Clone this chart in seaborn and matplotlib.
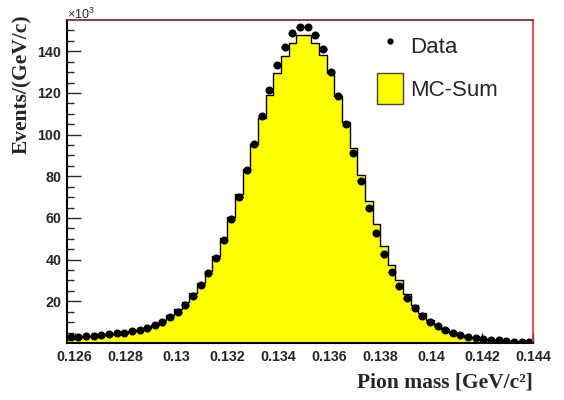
import numpy as np
import pandas as pd
import matplotlib
matplotlib.use("Agg")
import matplotlib.pyplot as plt
import seaborn as sns
from matplotlib.lines import Line2D
from matplotlib.patches import Patch

# ---- data (values in units of 10^3 events) ----
bin_low = 0.1257
bin_width = 0.0003
n_bins = 61
data_vals = [2.9, 2.8, 3.3, 3.4, 3.7, 4.1, 4.6, 5.0, 5.7, 6.3,
             7.4, 8.5, 10.1, 12.5, 15.1, 18.1, 22.5, 27.6, 33.4, 40.6,
             49.4, 59.5, 70.1, 83.0, 95.3, 108.8, 121.5, 133.4, 141.9, 148.6,
             151.8, 151.8, 148.0, 140.9, 130.2, 118.5, 105.0, 91.0, 77.7, 64.6,
             53.0, 42.6, 34.1, 27.5, 21.4, 16.7, 13.0, 10.0, 8.1, 6.1,
             4.7, 3.9, 3.1, 2.5, 2.0, 1.5, 1.2, 1.0, 0.7, 0.5, 0.4]
mc_vals = [3.0, 3.1, 3.3, 3.5, 3.8, 4.1, 4.5, 5.0, 5.6, 6.3,
           7.3, 8.6, 10.9, 13.3, 16.1, 19.7, 23.8, 28.6, 34.5, 41.7,
           50.2, 60.5, 71.4, 83.4, 95.5, 107.8, 119.2, 129.5, 137.5, 144.2,
           147.8, 147.8, 144.1, 138.1, 129.5, 118.7, 105.9, 93.4, 80.6, 68.1,
           57.0, 46.5, 37.3, 30.2, 23.5, 18.2, 14.3, 10.9, 8.7, 6.5,
           4.9, 3.7, 3.0, 2.4, 1.9, 1.5, 1.2, 1.0, 0.8, 0.6, 0.5]
x_ticks = [0.126, 0.128, 0.130, 0.132, 0.134, 0.136, 0.138, 0.140, 0.142, 0.144]
x_tick_labels = ["0.126", "0.128", "0.13", "0.132", "0.134", "0.136",
                 "0.138", "0.14", "0.142", "0.144"]
y_ticks = [20, 40, 60, 80, 100, 120, 140]
y_tick_labels = ["20", "40", "60", "80", "100", "120", "140"]

edges = bin_low + bin_width * np.arange(n_bins + 1)
centers = edges[:-1] + bin_width / 2
df = pd.DataFrame({"mass": centers, "mc": mc_vals, "data": data_vals})

sns.set_style("white")
plt.rcParams["font.family"] = ["Liberation Sans", "DejaVu Sans"]
plt.rcParams["mathtext.fontset"] = "custom"
plt.rcParams["mathtext.rm"] = "Liberation Sans"
plt.rcParams["mathtext.it"] = "Liberation Sans"

fig = plt.figure(figsize=(5.64, 4.0), dpi=100)
ax = fig.add_axes([67/564, 1-343/400, 466/564, 323/400])

sns.histplot(data=df, x="mass", weights="mc", bins=list(edges), element="step",
             fill=True, color="#ffff00", alpha=1.0, edgecolor="black",
             linewidth=1.0, ax=ax)
ax.errorbar(df["mass"], df["data"], xerr=bin_width/2, fmt="o", color="black",
            ms=4.8, elinewidth=1.0, capsize=0, zorder=5)

ax.set_xlim(bin_low, 0.144)
ax.set_ylim(0, 155)
ax.set_xlabel("")
ax.set_ylabel("")

ax.set_xticks(x_ticks)
ax.set_xticklabels(x_tick_labels, fontweight="bold", fontsize=10.3)
ax.set_xticks(np.arange(0.126, 0.14401, 0.001), minor=True)
ax.set_yticks(y_ticks)
ax.set_yticklabels(y_tick_labels, fontweight="bold", fontsize=10.3)
ax.set_yticks(np.arange(5, 155, 5), minor=True)
ax.tick_params(axis="y", which="major", direction="in", length=10, width=1, pad=4,
               left=True, right=False)
ax.tick_params(axis="y", which="minor", direction="in", length=5, width=1,
               left=True, right=False)
ax.tick_params(axis="x", which="major", direction="in", length=7, width=1, pad=5,
               bottom=True, top=False)
ax.tick_params(axis="x", which="minor", direction="in", length=3.5, width=1,
               bottom=True, top=False)

for s in ["left", "bottom"]:
    ax.spines[s].set_color("black")
    ax.spines[s].set_linewidth(1.5)
ax.spines["top"].set_color("#7a2020")
ax.spines["top"].set_linewidth(1.2)
ax.spines["right"].set_color("#e03030")
ax.spines["right"].set_linewidth(1.2)
for s in ax.spines.values():
    s.set_zorder(10)

fig.text(67/564, 1-19/400, r"$\times10^{3}$", fontsize=9, ha="left", va="baseline")

fig.text(533/564, 1-382/400, "Pion mass [GeV/c²]", ha="right", va="center",
         fontfamily="Liberation Serif", fontweight="bold", fontsize=15.5)
fig.text(22/564, 1-14/400, "Events/(GeV/c)", ha="center", va="top", rotation=90,
         fontfamily="Liberation Serif", fontweight="bold", fontsize=15.5)

handles = [Line2D([], [], marker="o", ls="none", color="black", ms=3.5),
           Patch(facecolor="#ffff00", edgecolor="#444444", linewidth=1.0)]
ax.legend(handles, ["Data", "MC-Sum"], loc="upper left",
          bbox_to_anchor=(377/564, 1-30/400), bbox_transform=fig.transFigure,
          frameon=False, fontsize=16, borderpad=0, borderaxespad=0,
          handlelength=1.15, handleheight=1.75, handletextpad=0.35, labelspacing=0.55)

fig.savefig("out.png", dpi=100)
